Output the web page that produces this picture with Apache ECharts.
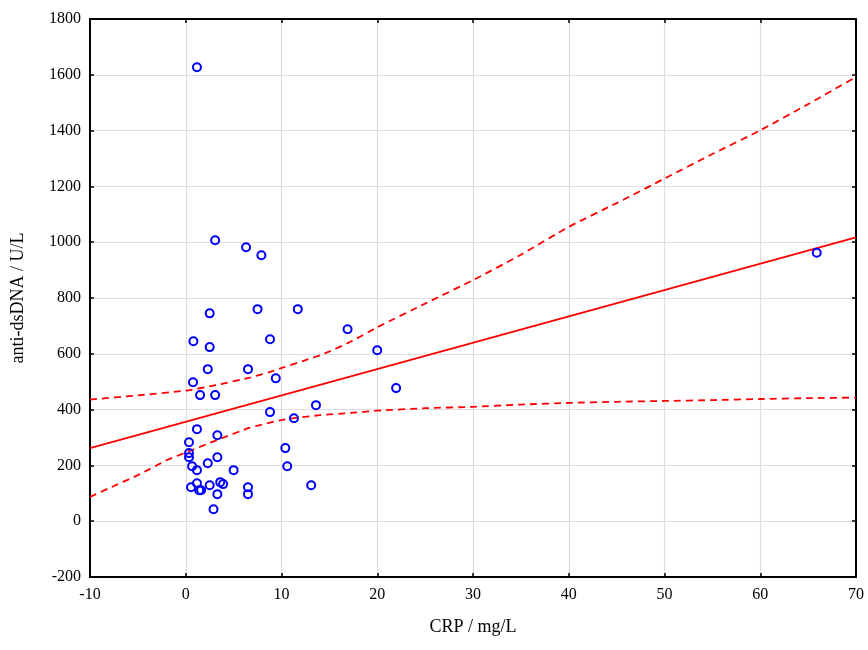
<!DOCTYPE html>
<html>
<head>
<meta charset="utf-8">
<script src="https://cdn.jsdelivr.net/npm/echarts@6/dist/echarts.min.js"></script>
<style>html,body{margin:0;padding:0;background:#fff}#c{width:868px;height:650px}</style>
</head>
<body>
<div id="c"></div>
<script>
// CRP (mg/L) values
const crp = [1.17,3.07,6.3,7.9,2.5,7.5,11.7,16.9,0.8,8.8,2.5,20.0,2.3,6.5,0.76,9.4,1.5,3.07,21.97,13.6,8.8,11.3,1.17,3.3,0.34,0.34,0.34,3.3,10.4,0.66,1.17,5.0,2.3,10.6,0.55,1.17,1.4,1.6,2.5,3.6,3.9,6.5,6.5,3.3,13.1,2.9,65.9];
// anti-dsDNA (U/L) values
const dsdna = [1627,1007,982,953,745,760,760,688,645,652,624,613,545,545,498,512,452,452,477,416,391,369,330,308,283,244,229,229,262,197,183,183,208,197,122,136,111,111,129,140,133,122,97,97,129,43,962];
// regression line endpoints
const fitX = [-10, 70];
const fitY = [262, 1017];
// confidence band (upper)
const upperX = [-10,-5,0,3.2,6.7,8.8,10.2,12.3,14.5,17.2,20,25,30,35,40,45,50,55,60,65,70];
const upperY = [436,451,468,488,515,535,551,575,601,643,695,780,864,955,1055,1140,1228,1316,1401,1495,1592];
// confidence band (lower)
const lowerX = [-10,-8.1,-5,-1.85,0,3.2,6.7,10.2,14,17.2,20,25,30,35,40,45,50,55,60,65,70];
const lowerY = [87,117,165,221,246,290,335,364,380,388,396,405,410,418,424,428,431,434,438,441,443];
// tick settings
const xTicks = {min:-10, max:70, interval:10};
const yTicks = {min:-200, max:1800, interval:200};
const xTitle = 'CRP / mg/L';
const yTitle = 'anti-dsDNA / U/L';

const pts = crp.map((x,i)=>[x, dsdna[i]]);
const fit = fitX.map((x,i)=>[x, fitY[i]]);
const up = upperX.map((x,i)=>[x, upperY[i]]);
const lo = lowerX.map((x,i)=>[x, lowerY[i]]);

const font = 'Liberation Serif';
const chart = echarts.init(document.getElementById('c'));
const aLine = {show:true, onZero:false, lineStyle:{color:'#000', width:2}};
const aTick = {show:true, inside:true, length:4, lineStyle:{color:'#000', width:1.5}};
const fmt = v => String(v);
chart.setOption({
  animation:false,
  backgroundColor:'#fff',
  grid:{left:90, right:12, top:19, bottom:73, containLabel:false, show:false},
  xAxis:[
    {type:'value', position:'bottom', min:xTicks.min, max:xTicks.max, interval:xTicks.interval,
      name:xTitle, nameLocation:'middle', nameGap:41,
      nameTextStyle:{fontFamily:font, fontSize:18, color:'#000'},
      axisLabel:{fontFamily:font, fontSize:16, color:'#000', margin:10, formatter:fmt},
      splitLine:{show:true, lineStyle:{color:'#dddddd', width:1.2}},
      axisLine:aLine, axisTick:aTick},
    {type:'value', position:'top', min:xTicks.min, max:xTicks.max, interval:xTicks.interval,
      axisLabel:{show:false}, splitLine:{show:false}, axisLine:aLine, axisTick:aTick}
  ],
  yAxis:[
    {type:'value', position:'left', min:yTicks.min, max:yTicks.max, interval:yTicks.interval,
      name:yTitle, nameLocation:'middle', nameGap:63, nameRotate:90,
      nameTextStyle:{fontFamily:font, fontSize:18, color:'#000'},
      axisLabel:{fontFamily:font, fontSize:16, color:'#000', margin:9, formatter:fmt},
      splitLine:{show:true, lineStyle:{color:'#dddddd', width:1.2}},
      axisLine:aLine, axisTick:aTick},
    {type:'value', position:'right', min:yTicks.min, max:yTicks.max, interval:yTicks.interval,
      axisLabel:{show:false}, splitLine:{show:false}, axisLine:aLine, axisTick:aTick}
  ],
  series:[
    {type:'line', data:up, smooth:0.2, symbol:'none', lineStyle:{color:'#ff0000', width:1.8, type:[7,5]}, z:3},
    {type:'line', data:lo, smooth:0.2, symbol:'none', lineStyle:{color:'#ff0000', width:1.8, type:[7,5]}, z:3},
    {type:'line', data:fit, symbol:'none', lineStyle:{color:'#ff0000', width:1.8}, z:3},
    {type:'scatter', data:pts, symbol:'circle', symbolSize:8,
      itemStyle:{color:'rgba(255,255,255,0)', borderColor:'#0000ff', borderWidth:2, opacity:1}, z:4}
  ]
});
</script>
</body>
</html>
